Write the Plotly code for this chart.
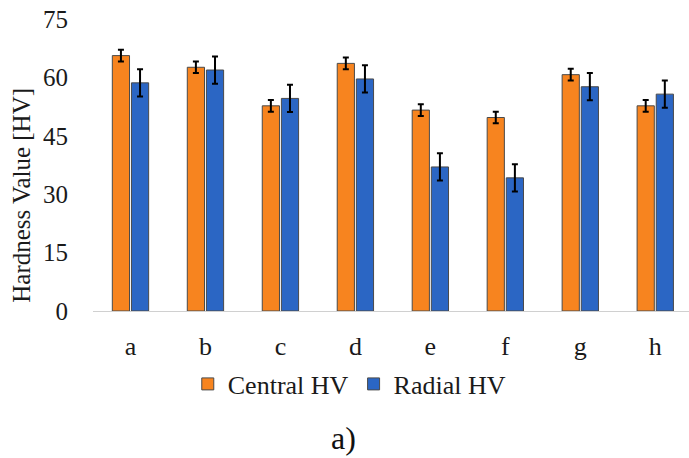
import plotly.graph_objects as go

samples = ["a", "b", "c", "d", "e", "f", "g", "h"]
central_hv = [65.6, 62.6, 52.7, 63.6, 51.6, 49.7, 60.7, 52.7]
central_err = [1.5, 1.5, 1.5, 1.5, 1.5, 1.5, 1.5, 1.5]
radial_hv = [58.6, 61.9, 54.6, 59.6, 37.0, 34.2, 57.6, 55.7]
radial_err = [3.5, 3.5, 3.5, 3.5, 3.5, 3.5, 3.5, 3.5]
y_ticks = [0, 15, 30, 45, 60, 75]

FONT = "Liberation Serif, Times New Roman, serif"
ORANGE = "#F7841F"
BLUE = "#2B66C4"
TEXT = "#1a1a1a"

fig = go.Figure()
fig.add_trace(go.Bar(
    x=samples, y=central_hv, name="Central HV",
    marker=dict(color=ORANGE, line=dict(color="#4a4a4a", width=1)),
    error_y=dict(type="data", array=central_err, color="black", thickness=2, width=3),
))
fig.add_trace(go.Bar(
    x=samples, y=radial_hv, name="Radial HV",
    marker=dict(color=BLUE, line=dict(color="#4a4a4a", width=1)),
    error_y=dict(type="data", array=radial_err, color="black", thickness=2, width=3),
))

fig.update_layout(
    width=689, height=458,
    margin=dict(l=93, r=0, t=19, b=147),
    paper_bgcolor="white", plot_bgcolor="white",
    barmode="group", bargap=0.49, bargroupgap=0.1,
    font=dict(family=FONT, size=25, color=TEXT),
    showlegend=True,
    legend=dict(
        orientation="h", x=0.43, xanchor="center", y=-0.25, yanchor="middle",
        font=dict(family=FONT, size=26, color=TEXT),
        itemwidth=30, traceorder="normal",
    ),
    xaxis=dict(
        range=[-0.5, 7.45], showgrid=False, showline=True, linecolor="#d0d0d0",
        linewidth=1, ticks="", ticklabelstandoff=12,
        tickfont=dict(family=FONT, size=26, color=TEXT),
    ),
    yaxis=dict(
        range=[0, 75], tickvals=y_ticks, showgrid=False, zeroline=False,
        showline=False, ticks="", ticklabelstandoff=24,
        tickfont=dict(family=FONT, size=25, color=TEXT),
    ),
    annotations=[
        # y-axis title, set slightly below the plot's vertical centre
        dict(
            text="Hardness Value [HV]", textangle=-90,
            x=-0.119, y=0.395, xref="paper", yref="paper",
            xanchor="center", yanchor="middle", showarrow=False,
            font=dict(family=FONT, size=25, color=TEXT),
        ),
        dict(
            text="a)", x=0.42, y=-0.436, xref="paper", yref="paper",
            xanchor="center", yanchor="middle", showarrow=False,
            font=dict(family=FONT, size=32, color="#111"),
        ),
    ],
)

fig.write_html("out.html")
